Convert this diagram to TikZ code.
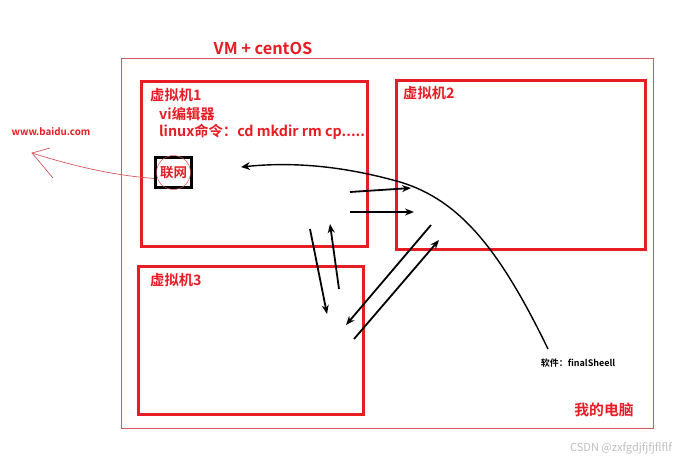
\documentclass[tikz,border=0pt]{standalone}
\usepackage{fontspec}
\setmainfont{Noto Sans CJK SC}[BoldFont={Noto Sans CJK SC Bold}]
\usetikzlibrary{arrows.meta}
\definecolor{vred}{RGB}{232,28,36}
\definecolor{pinkred}{RGB}{214,86,96}
\definecolor{wm}{RGB}{190,190,190}
\tikzset{
  vmbox/.style={draw=vred, line width=3pt},
  redtxt/.style={text=vred, font=\bfseries, inner sep=0pt, anchor=west},
  blk/.style={draw=black, line width=1.8pt, -{Stealth[length=9pt,width=7pt]}},
}
\begin{document}
\begin{tikzpicture}[x=1pt,y=-1pt]
\useasboundingbox (0,0) rectangle (684,464);
\fill[white] (0,0) rectangle (684,464);
% outer
\draw[pinkred, line width=0.9pt] (121,58) rectangle (653,428);
\node[redtxt, anchor=center, font=\bfseries\fontsize{16.3}{19}\selectfont] (title) at (263,48) {VM + centOS};
% boxes
\draw[vmbox] (141,81) rectangle (367,246);
\draw[vmbox] (396,80) rectangle (645,249);
\draw[vmbox] (138,266) rectangle (363,414);
\node[redtxt, font=\bfseries\fontsize{14.3}{16}\selectfont] (l1) at (150,95) {虚拟机1};
\node[redtxt, font=\bfseries\fontsize{14.3}{16}\selectfont] (l2) at (159,114) {vi编辑器};
\node[redtxt, font=\bfseries\fontsize{14.3}{16}\selectfont] (l3) at (159,132) {linux命令：cd mkdir rm cp......};
\node[redtxt, font=\bfseries\fontsize{14.3}{16}\selectfont] (l4) at (403,93) {虚拟机2};
\node[redtxt, font=\bfseries\fontsize{14.3}{16}\selectfont] (l5) at (150,280) {虚拟机3};
\node[redtxt, anchor=center, font=\bfseries\fontsize{14.8}{17}\selectfont] (pc) at (604,410) {我的电脑};
% network box
\node[draw=black, line width=2.6pt, minimum width=36pt, minimum height=30pt, inner sep=0pt, text=vred, font=\bfseries\fontsize{13.5}{15}\selectfont] (net) at (173.5,172.5) {联网};
\draw[pinkred, line width=0.5pt] (net.center) circle (17);
\node[redtxt, anchor=center, font=\bfseries\fontsize{9.8}{12}\selectfont] (baidu) at (51,132) {www.baidu.com};
\coordinate (btip) at (32,153);
\draw[pinkred, line width=0.7pt] (net.west) ++(0,6) .. controls (110,175) and (70,165) .. (btip);
\draw[pinkred, line width=0.7pt] (50,148) -- (btip) -- (53,178);
% finalshell
\node[inner sep=0pt, font=\bfseries\fontsize{9}{11}\selectfont] (fs) at (578,363) {软件：finalSheell};
\coordinate (cs) at (548,349);
\coordinate (ct) at (241,167);
\draw[black, line width=1.4pt, -{Stealth[length=9pt,width=8pt]}] (cs) .. controls (500,250) and (460,200) .. (400,182) .. controls (340,165) and (290,162) .. (ct);
% arrows
\coordinate (a1s) at (350,192); \coordinate (a1e) at (411,188);
\coordinate (a2s) at (350,212); \coordinate (a2e) at (414,212);
\coordinate (a3s) at (310,229); \coordinate (a3e) at (327,314);
\coordinate (a4s) at (339,289); \coordinate (a4e) at (330,224);
\coordinate (a5s) at (431,225); \coordinate (a5e) at (346,325);
\coordinate (a6s) at (354,339); \coordinate (a6e) at (439,240);
\draw[blk] (a1s) -- (a1e);
\draw[blk] (a2s) -- (a2e);
\draw[blk] (a3s) -- (a3e);
\draw[blk] (a4s) -- (a4e);
\draw[blk] (a5s) -- (a5e);
\draw[blk] (a6s) -- (a6e);
% watermark
\node[text=wm, inner sep=0pt, font=\fontsize{11}{13}\selectfont] (wmk) at (621,448) {CSDN @zxfgdjfjfjflflf};
\end{tikzpicture}
\end{document}
